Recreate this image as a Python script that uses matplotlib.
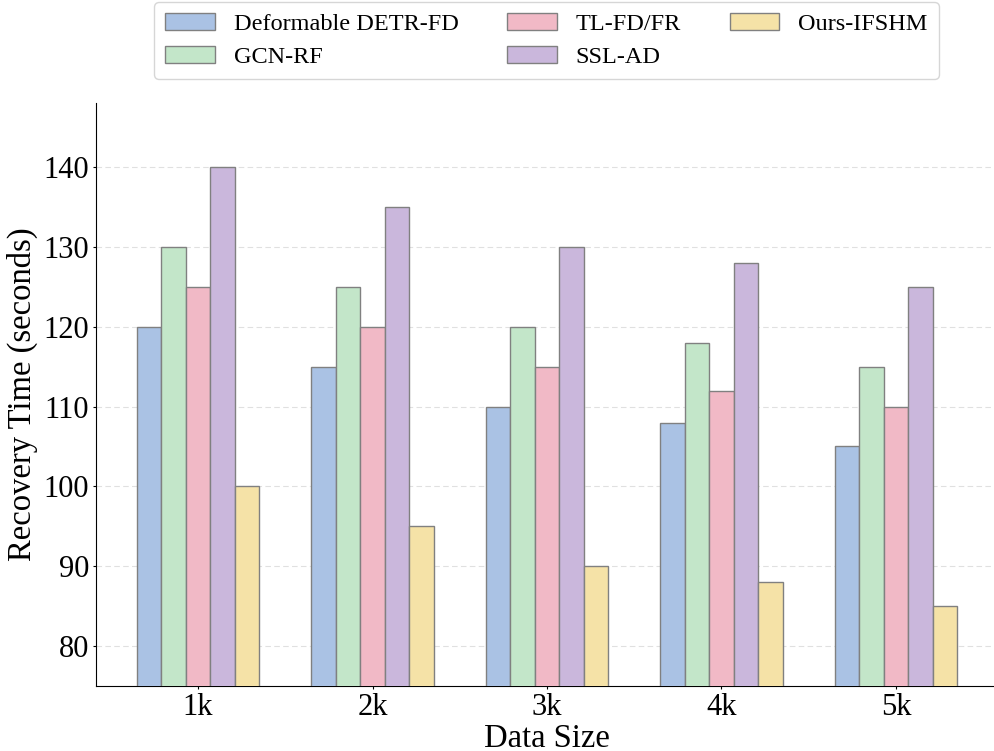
import matplotlib
matplotlib.use("Agg")
import matplotlib.pyplot as plt
import numpy as np

plt.rcParams['font.family'] = ['Liberation Serif', 'DejaVu Serif']
plt.rcParams['mathtext.fontset'] = 'stix'

categories = ['1k', '2k', '3k', '4k', '5k']
methods = ['Deformable DETR-FD', 'GCN-RF', 'TL-FD/FR', 'SSL-AD', 'Ours-IFSHM']
deformable = [120, 115, 110, 108, 105]
gcn_rf = [130, 125, 120, 118, 115]
tl_fd = [125, 120, 115, 112, 110]
ssl_ad = [140, 135, 130, 128, 125]
ours = [100, 95, 90, 88, 85]
colors = ['#aac2e4', '#c3e6c9', '#f1b9c6', '#cab7dc', '#f5e2a7']

series = [deformable, gcn_rf, tl_fd, ssl_ad, ours]

fig = plt.figure(figsize=(9.95, 7.51), dpi=100)
ax = fig.add_axes([0.0965, 0.0866, 0.9065, 0.776])

x = np.arange(len(categories))
w = 0.14
for i, (vals, name, c) in enumerate(zip(series, methods, colors)):
    ax.bar(x + (i - 2) * w, vals, w, label=name, color=c, edgecolor='#808080', linewidth=1.0, zorder=3)

ax.set_ylim(75, 148)
ax.set_yticks([80, 90, 100, 110, 120, 130, 140])
ax.set_xticks(x)
ax.set_xticklabels(categories)
ax.tick_params(axis='both', labelsize=22, length=2.5, pad=2.5)
ax.set_xlabel('Data Size', fontsize=23.5, labelpad=1)
ax.set_ylabel('Recovery Time (seconds)', fontsize=23.5, labelpad=4)
ax.yaxis.grid(True, linestyle=(0, (5, 3)), color='#e0e0e0', linewidth=0.8, zorder=0)
ax.set_axisbelow(True)
ax.spines['top'].set_visible(False)
ax.spines['right'].set_visible(False)

fig.legend(loc='upper center', bbox_to_anchor=(0.549, 1.013), ncol=3, fontsize=17.5,
           frameon=True, fancybox=True, edgecolor='#cccccc', columnspacing=2.0,
           handlelength=2.05, handleheight=0.7, handletextpad=0.78,
           borderpad=0.45, labelspacing=0.45)

fig.savefig('out.png', dpi=100)
